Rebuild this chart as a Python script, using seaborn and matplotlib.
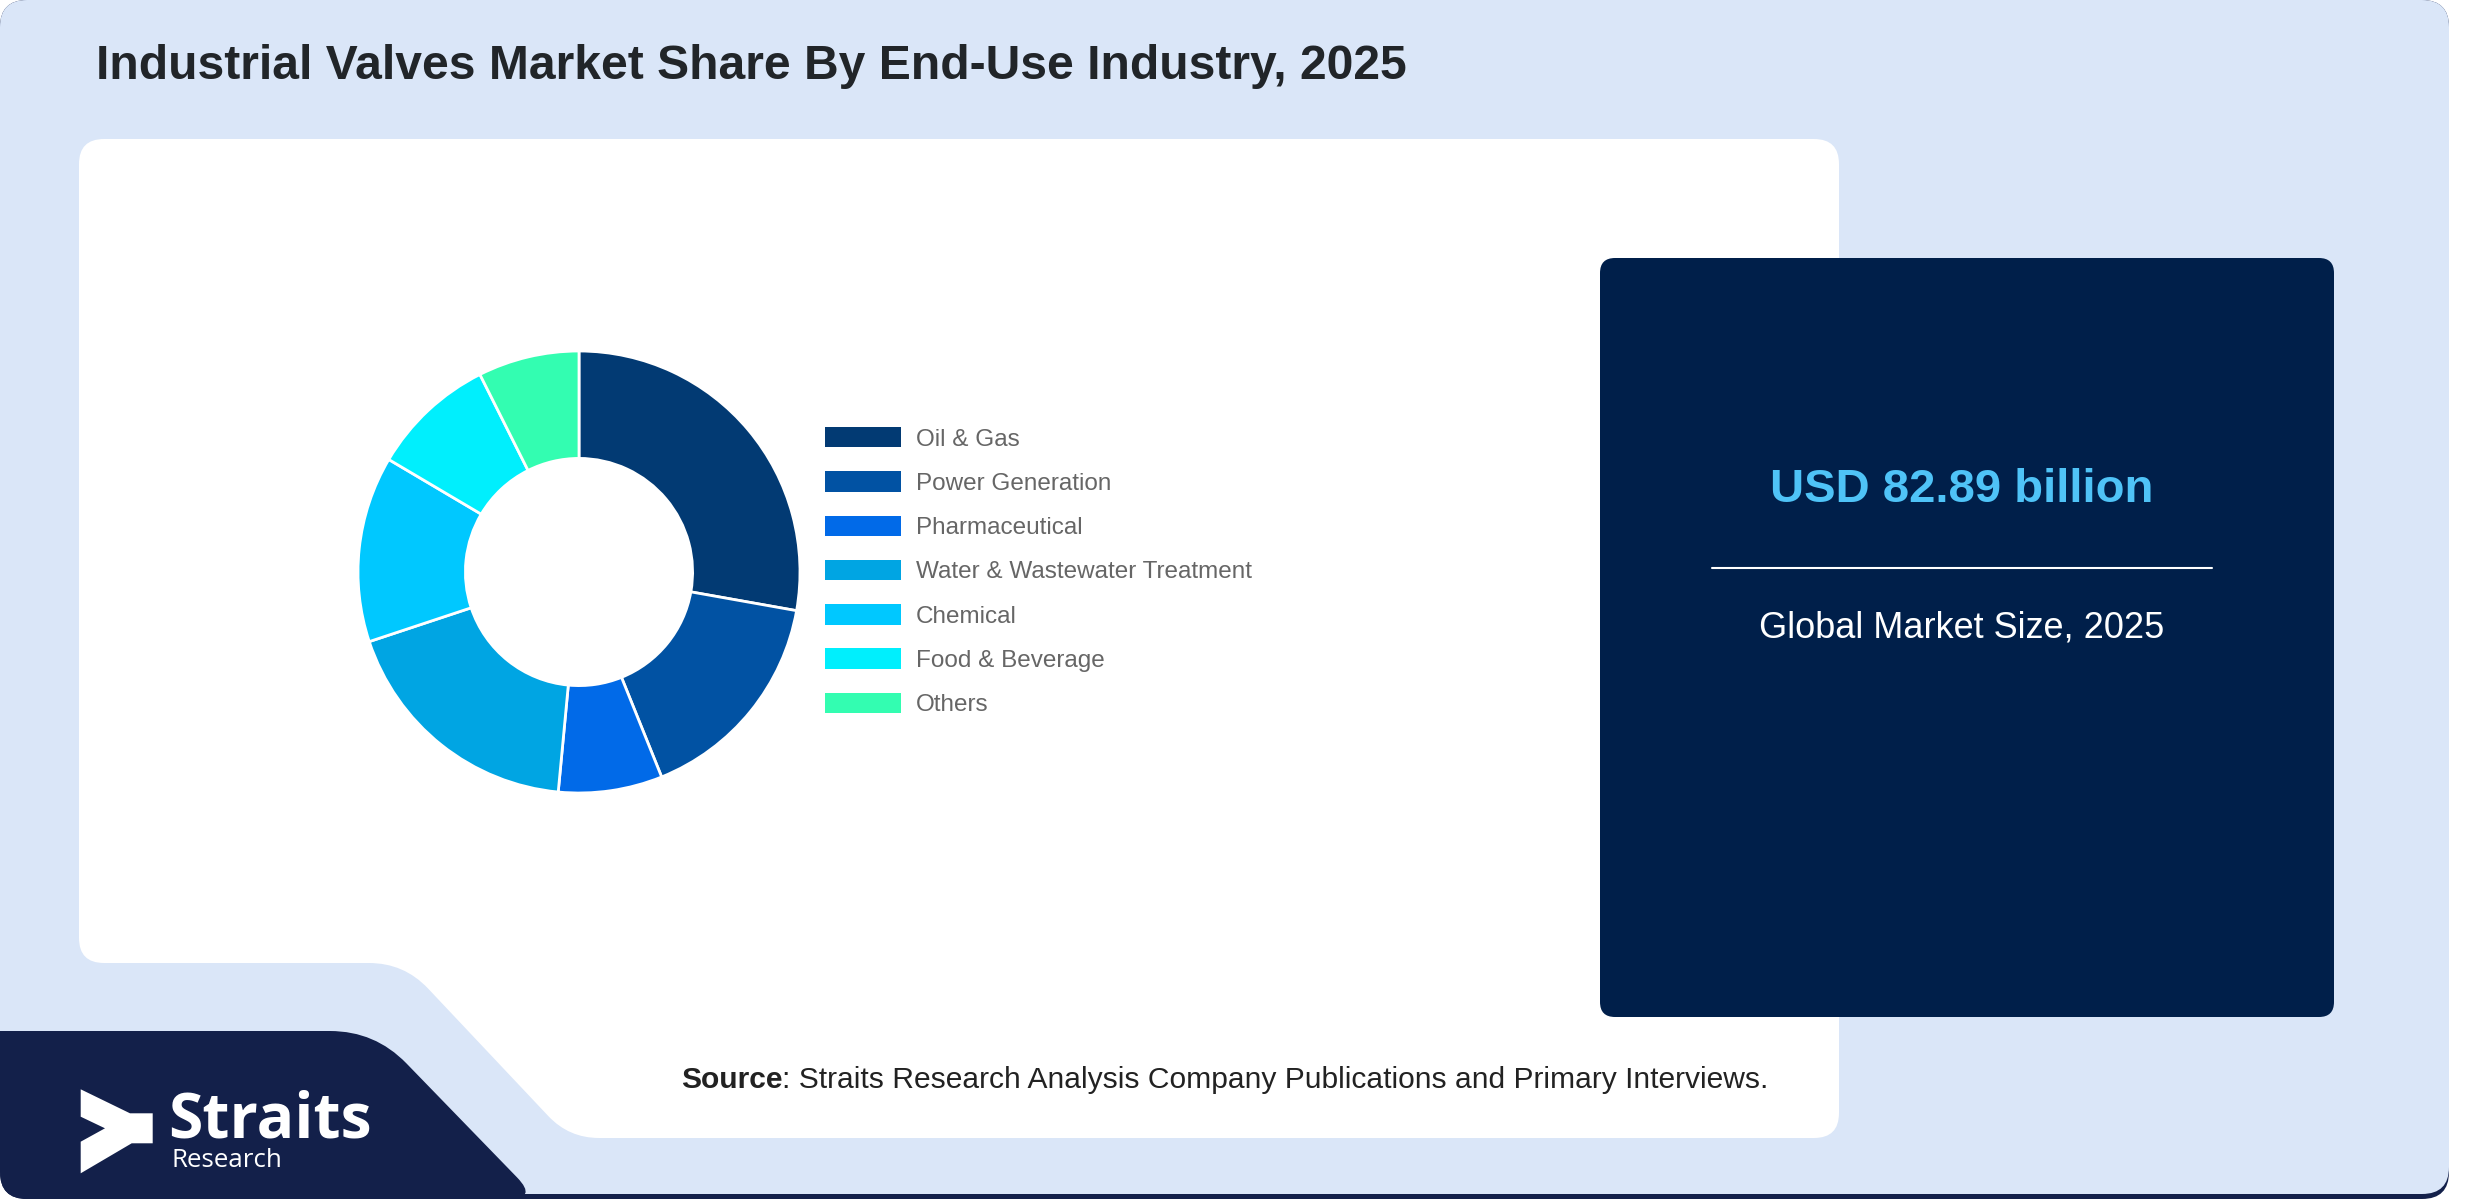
import numpy as np
import matplotlib.pyplot as plt
import seaborn as sns
from matplotlib.patches import PathPatch, Patch
from matplotlib.path import Path

industries = ["Oil & Gas", "Power Generation", "Pharmaceutical",
              "Water & Wastewater Treatment", "Chemical", "Food & Beverage", "Others"]
shares = [27.8, 16.1, 7.6, 18.4, 13.6, 9.1, 7.4]
slice_colors = ["#023a73", "#0152a3", "#016ae8", "#00a5e3", "#00c8ff", "#00effd", "#33fdb1"]

title = "Industrial Valves Market Share By End-Use Industry, 2025"
market_value = "USD 82.89 billion"
market_label = "Global Market Size, 2025"
source_note = ": Straits Research Analysis Company Publications and Primary Interviews."

W, H = 2480, 1200
NAVY = "#13204a"
LIGHT = "#dae6f8"
BOX = "#001f4a"


def rounded_path(points, radii):
    # polygon with rounded corners (quadratic curves at each vertex)
    pts = np.array(points, float)
    n = len(pts)
    verts, codes = [], []
    for i in range(n):
        p, prev, nxt = pts[i], pts[i - 1], pts[(i + 1) % n]
        d1 = (prev - p) / np.linalg.norm(prev - p)
        d2 = (nxt - p) / np.linalg.norm(nxt - p)
        a, b = p + d1 * radii[i], p + d2 * radii[i]
        verts.append(a)
        codes.append(Path.MOVETO if i == 0 else Path.LINETO)
        verts += [p, b]
        codes += [Path.CURVE3, Path.CURVE3]
    verts.append(verts[0])
    codes.append(Path.CLOSEPOLY)
    return Path(verts, codes)


def rect(x0, y0, x1, y1):
    return [(x0, y0), (x1, y0), (x1, y1), (x0, y1)]


sns.set_theme(style="white")
plt.rcParams["font.family"] = ["Liberation Sans", "DejaVu Sans"]
palette = sns.color_palette(slice_colors)

fig = plt.figure(figsize=(W / 100, H / 100), dpi=100, facecolor="white")

# background layer in pixel coordinates
bg = fig.add_axes([0, 0, 1, 1])
bg.set_xlim(0, W)
bg.set_ylim(H, 0)
bg.axis("off")

bg.add_patch(PathPatch(rounded_path(rect(0, 0, 2449, 1199), [27] * 4), fc=NAVY, ec="none"))
bg.add_patch(PathPatch(rounded_path(rect(0, 0, 2449, 1194), [27] * 4), fc=LIGHT, ec="none"))
bg.add_patch(PathPatch(rounded_path([(0, 1031), (375, 1031), (538, 1199), (0, 1199)],
                                    [0, 45, 30, 27]), fc=NAVY, ec="none"))
bg.add_patch(PathPatch(rounded_path([(79, 139), (1839, 139), (1839, 1138), (569, 1138),
                                     (404, 963), (79, 963)],
                                    [25, 25, 25, 30, 35, 25]), fc="white", ec="none"))
bg.add_patch(PathPatch(rounded_path(rect(1600, 258, 2334, 1017), [15] * 4), fc=BOX, ec="none"))

bg.text(96, 79, title, fontsize=34.6, fontweight="bold", color="#212529", ha="left", va="baseline")

bg.text(1962, 502, market_value, fontsize=34, fontweight="bold", color="#4fc3f7",
        ha="center", va="baseline")
bg.plot([1712, 2212], [568, 568], color="white", lw=1.5)
bg.text(1962, 638, market_label, fontsize=26, color="white", ha="center", va="baseline")

src = bg.text(681, 1088, "Source", fontsize=21.6, fontweight="bold", color="#222222",
              ha="left", va="baseline")
bg.annotate(source_note, xy=(1, 0), xycoords=src, fontsize=21.6, color="#222222",
            ha="left", va="bottom")

# logo
arrow = [(80.7, 1089.3), (130, 1113.3), (152.7, 1113.3), (152.7, 1143.3), (131.7, 1143.3),
         (80.7, 1173.3), (80.7, 1141.7), (105, 1128.3), (80.7, 1116.7)]
bg.add_patch(PathPatch(rounded_path(arrow, [0] * len(arrow)), fc="white", ec="none"))
bg.text(168, 1137, "Straits", fontsize=45, fontweight="bold", color="white",
        family=["Open Sans", "DejaVu Sans"], ha="left", va="baseline")
bg.text(171, 1167, "Research", fontsize=18.6, color="white",
        family=["Open Sans", "DejaVu Sans"], ha="left", va="baseline")

# donut chart
cx, cy, R = 579, 572, 221
ax = fig.add_axes([(cx - R) / W, (H - cy - R) / H, 2 * R / W, 2 * R / H])
ax.pie(shares, colors=palette, startangle=90, counterclock=False, radius=1,
       wedgeprops=dict(width=0.486, edgecolor="white", linewidth=2))
ax.set_xlim(-1, 1)
ax.set_ylim(-1, 1)
ax.set_aspect("equal")
ax.axis("off")

fs = 17.5 * 100 / 72
handles = [Patch(facecolor=c, edgecolor="none") for c in palette]
ax.legend(handles, industries, loc="upper left", bbox_to_anchor=(825 / W, 1 - 427 / H),
          bbox_transform=fig.transFigure, frameon=False, fontsize=17.5,
          handlelength=76 / fs, handleheight=0.92, handletextpad=15 / fs,
          labelspacing=0.85, borderpad=0, borderaxespad=0, labelcolor="#666666")

fig.savefig("out.png", dpi=100, facecolor="white")
